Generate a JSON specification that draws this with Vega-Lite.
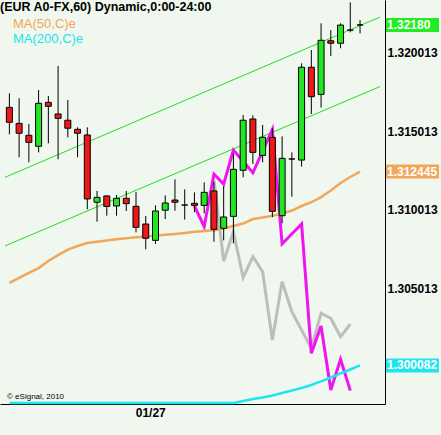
{
  "$schema": "https://vega.github.io/schema/vega-lite/v6.json",
  "width": 385,
  "height": 404,
  "autosize": {"type": "none"},
  "padding": {"left": 0, "top": 0, "right": 56, "bottom": 31},
  "background": "#eff7ef",
  "view": {"stroke": null},
  "config": {
    "font": "Liberation Sans",
    "axis": {"ticks": false, "grid": false, "domainColor": "black", "domainWidth": 1, "labelFont": "Liberation Sans", "labelFontSize": 12, "labelFontWeight": "bold", "labelColor": "black", "labelOverlap": false, "labelFlush": false},
    "axisY": {"labelPadding": 2},
    "axisX": {"labelPadding": 3}
  },
  "title": {"text": "(EUR A0-FX,60) Dynamic,0:00-24:00", "anchor": "start", "frame": "group", "offset": -13, "font": "Liberation Sans", "fontSize": 12.5, "fontWeight": "bold", "color": "black"},
  "datasets": {
    "candles": [
      {"t":"2010-01-26T10:00","o":1.31654,"h":1.31744,"l":1.31482,"c":1.31559},
      {"t":"2010-01-26T11:00","o":1.31552,"h":1.31712,"l":1.31336,"c":1.31489},
      {"t":"2010-01-26T12:00","o":1.31476,"h":1.31548,"l":1.31304,"c":1.31431},
      {"t":"2010-01-26T13:00","o":1.31406,"h":1.31765,"l":1.31367,"c":1.3168},
      {"t":"2010-01-26T14:00","o":1.31686,"h":1.31727,"l":1.31425,"c":1.31661},
      {"t":"2010-01-26T15:00","o":1.31612,"h":1.31918,"l":1.31323,"c":1.31584},
      {"t":"2010-01-26T16:00","o":1.31572,"h":1.31701,"l":1.31463,"c":1.31521},
      {"t":"2010-01-26T17:00","o":1.31514,"h":1.31527,"l":1.31336,"c":1.31489},
      {"t":"2010-01-26T18:00","o":1.31478,"h":1.31527,"l":1.31004,"c":1.3107},
      {"t":"2010-01-26T19:00","o":1.31049,"h":1.31121,"l":1.30925,"c":1.3108},
      {"t":"2010-01-26T20:00","o":1.31089,"h":1.31095,"l":1.30963,"c":1.31022},
      {"t":"2010-01-26T21:00","o":1.31025,"h":1.31095,"l":1.30963,"c":1.31074},
      {"t":"2010-01-26T22:00","o":1.31074,"h":1.31121,"l":1.30993,"c":1.3104},
      {"t":"2010-01-26T23:00","o":1.31023,"h":1.31114,"l":1.30857,"c":1.30889},
      {"t":"2010-01-27T00:00","o":1.3091,"h":1.30961,"l":1.30749,"c":1.30819},
      {"t":"2010-01-27T01:00","o":1.30806,"h":1.31029,"l":1.30783,"c":1.30993},
      {"t":"2010-01-27T02:00","o":1.30998,"h":1.31093,"l":1.30942,"c":1.31044},
      {"t":"2010-01-27T03:00","o":1.31063,"h":1.31195,"l":1.30995,"c":1.31049},
      {"t":"2010-01-27T04:00","o":1.31031,"h":1.31131,"l":1.30938,"c":1.31031},
      {"t":"2010-01-27T05:00","o":1.31042,"h":1.31112,"l":1.30985,"c":1.31029},
      {"t":"2010-01-27T06:00","o":1.31029,"h":1.31176,"l":1.30978,"c":1.31112},
      {"t":"2010-01-27T07:00","o":1.31121,"h":1.31178,"l":1.30797,"c":1.30876},
      {"t":"2010-01-27T08:00","o":1.30883,"h":1.31152,"l":1.30806,"c":1.30955},
      {"t":"2010-01-27T09:00","o":1.30959,"h":1.31361,"l":1.30787,"c":1.31259},
      {"t":"2010-01-27T10:00","o":1.31253,"h":1.31605,"l":1.31208,"c":1.31572},
      {"t":"2010-01-27T11:00","o":1.3158,"h":1.31603,"l":1.31293,"c":1.31367},
      {"t":"2010-01-27T12:00","o":1.31348,"h":1.31542,"l":1.31304,"c":1.31463},
      {"t":"2010-01-27T13:00","o":1.31463,"h":1.31521,"l":1.30953,"c":1.30991},
      {"t":"2010-01-27T14:00","o":1.30963,"h":1.31469,"l":1.30915,"c":1.31329},
      {"t":"2010-01-27T15:00","o":1.31325,"h":1.31367,"l":1.31084,"c":1.31325},
      {"t":"2010-01-27T16:00","o":1.31318,"h":1.31935,"l":1.31276,"c":1.3191},
      {"t":"2010-01-27T17:00","o":1.3191,"h":1.3202,"l":1.31612,"c":1.31722},
      {"t":"2010-01-27T18:00","o":1.31737,"h":1.3219,"l":1.31653,"c":1.32082},
      {"t":"2010-01-27T19:00","o":1.32079,"h":1.32147,"l":1.31982,"c":1.32063},
      {"t":"2010-01-27T20:00","o":1.32063,"h":1.3219,"l":1.32031,"c":1.32179},
      {"t":"2010-01-27T21:00","o":1.32147,"h":1.32324,"l":1.32133,"c":1.32147},
      {"t":"2010-01-27T22:00","o":1.3218,"h":1.32211,"l":1.32126,"c":1.3218}
    ],
    "ma": [
      {"t":"2010-01-26T10:00","s":"MA(50,C)e","v":1.30534},
      {"t":"2010-01-26T11:00","s":"MA(50,C)e","v":1.30566},
      {"t":"2010-01-26T12:00","s":"MA(50,C)e","v":1.30598},
      {"t":"2010-01-26T13:00","s":"MA(50,C)e","v":1.30629},
      {"t":"2010-01-26T14:00","s":"MA(50,C)e","v":1.30674},
      {"t":"2010-01-26T15:00","s":"MA(50,C)e","v":1.30712},
      {"t":"2010-01-26T16:00","s":"MA(50,C)e","v":1.30747},
      {"t":"2010-01-26T17:00","s":"MA(50,C)e","v":1.3077},
      {"t":"2010-01-26T18:00","s":"MA(50,C)e","v":1.30789},
      {"t":"2010-01-26T19:00","s":"MA(50,C)e","v":1.30797},
      {"t":"2010-01-26T20:00","s":"MA(50,C)e","v":1.30805},
      {"t":"2010-01-26T21:00","s":"MA(50,C)e","v":1.30813},
      {"t":"2010-01-26T22:00","s":"MA(50,C)e","v":1.3082},
      {"t":"2010-01-26T23:00","s":"MA(50,C)e","v":1.30826},
      {"t":"2010-01-27T00:00","s":"MA(50,C)e","v":1.30831},
      {"t":"2010-01-27T01:00","s":"MA(50,C)e","v":1.30836},
      {"t":"2010-01-27T02:00","s":"MA(50,C)e","v":1.30842},
      {"t":"2010-01-27T03:00","s":"MA(50,C)e","v":1.30847},
      {"t":"2010-01-27T04:00","s":"MA(50,C)e","v":1.30853},
      {"t":"2010-01-27T05:00","s":"MA(50,C)e","v":1.3086},
      {"t":"2010-01-27T06:00","s":"MA(50,C)e","v":1.30865},
      {"t":"2010-01-27T07:00","s":"MA(50,C)e","v":1.30871},
      {"t":"2010-01-27T08:00","s":"MA(50,C)e","v":1.30881},
      {"t":"2010-01-27T09:00","s":"MA(50,C)e","v":1.30897},
      {"t":"2010-01-27T10:00","s":"MA(50,C)e","v":1.30913},
      {"t":"2010-01-27T11:00","s":"MA(50,C)e","v":1.30942},
      {"t":"2010-01-27T12:00","s":"MA(50,C)e","v":1.30952},
      {"t":"2010-01-27T13:00","s":"MA(50,C)e","v":1.30962},
      {"t":"2010-01-27T14:00","s":"MA(50,C)e","v":1.30977},
      {"t":"2010-01-27T15:00","s":"MA(50,C)e","v":1.30996},
      {"t":"2010-01-27T16:00","s":"MA(50,C)e","v":1.31025},
      {"t":"2010-01-27T17:00","s":"MA(50,C)e","v":1.31049},
      {"t":"2010-01-27T18:00","s":"MA(50,C)e","v":1.31082},
      {"t":"2010-01-27T19:00","s":"MA(50,C)e","v":1.31124},
      {"t":"2010-01-27T20:00","s":"MA(50,C)e","v":1.31172},
      {"t":"2010-01-27T21:00","s":"MA(50,C)e","v":1.3121},
      {"t":"2010-01-27T22:00","s":"MA(50,C)e","v":1.31244},
      {"t":"2010-01-26T10:00","s":"MA(200,C)e","v":1.29768},
      {"t":"2010-01-26T11:00","s":"MA(200,C)e","v":1.29768},
      {"t":"2010-01-26T12:00","s":"MA(200,C)e","v":1.29768},
      {"t":"2010-01-26T13:00","s":"MA(200,C)e","v":1.29768},
      {"t":"2010-01-26T14:00","s":"MA(200,C)e","v":1.29768},
      {"t":"2010-01-26T15:00","s":"MA(200,C)e","v":1.29768},
      {"t":"2010-01-26T16:00","s":"MA(200,C)e","v":1.29768},
      {"t":"2010-01-26T17:00","s":"MA(200,C)e","v":1.29768},
      {"t":"2010-01-26T18:00","s":"MA(200,C)e","v":1.29768},
      {"t":"2010-01-26T19:00","s":"MA(200,C)e","v":1.29768},
      {"t":"2010-01-26T20:00","s":"MA(200,C)e","v":1.29768},
      {"t":"2010-01-26T21:00","s":"MA(200,C)e","v":1.29768},
      {"t":"2010-01-26T22:00","s":"MA(200,C)e","v":1.29768},
      {"t":"2010-01-26T23:00","s":"MA(200,C)e","v":1.29768},
      {"t":"2010-01-27T00:00","s":"MA(200,C)e","v":1.29768},
      {"t":"2010-01-27T01:00","s":"MA(200,C)e","v":1.29768},
      {"t":"2010-01-27T02:00","s":"MA(200,C)e","v":1.29768},
      {"t":"2010-01-27T03:00","s":"MA(200,C)e","v":1.29768},
      {"t":"2010-01-27T04:00","s":"MA(200,C)e","v":1.29768},
      {"t":"2010-01-27T05:00","s":"MA(200,C)e","v":1.29768},
      {"t":"2010-01-27T06:00","s":"MA(200,C)e","v":1.29768},
      {"t":"2010-01-27T07:00","s":"MA(200,C)e","v":1.29768},
      {"t":"2010-01-27T08:00","s":"MA(200,C)e","v":1.29768},
      {"t":"2010-01-27T09:00","s":"MA(200,C)e","v":1.29768},
      {"t":"2010-01-27T10:00","s":"MA(200,C)e","v":1.29781},
      {"t":"2010-01-27T11:00","s":"MA(200,C)e","v":1.29794},
      {"t":"2010-01-27T12:00","s":"MA(200,C)e","v":1.29804},
      {"t":"2010-01-27T13:00","s":"MA(200,C)e","v":1.29816},
      {"t":"2010-01-27T14:00","s":"MA(200,C)e","v":1.29832},
      {"t":"2010-01-27T15:00","s":"MA(200,C)e","v":1.29848},
      {"t":"2010-01-27T16:00","s":"MA(200,C)e","v":1.29864},
      {"t":"2010-01-27T17:00","s":"MA(200,C)e","v":1.29883},
      {"t":"2010-01-27T18:00","s":"MA(200,C)e","v":1.29906},
      {"t":"2010-01-27T19:00","s":"MA(200,C)e","v":1.29931},
      {"t":"2010-01-27T20:00","s":"MA(200,C)e","v":1.29957},
      {"t":"2010-01-27T21:00","s":"MA(200,C)e","v":1.29982},
      {"t":"2010-01-27T22:00","s":"MA(200,C)e","v":1.30008}
    ],
    "magenta": [
      {"t":"2010-01-27T05:00","v":1.31025},
      {"t":"2010-01-27T06:00","v":1.30893},
      {"t":"2010-01-27T07:00","v":1.31229},
      {"t":"2010-01-27T08:00","v":1.31165},
      {"t":"2010-01-27T09:00","v":1.31382},
      {"t":"2010-01-27T11:00","v":1.31237},
      {"t":"2010-01-27T13:00","v":1.31514},
      {"t":"2010-01-27T14:00","v":1.30783},
      {"t":"2010-01-27T16:00","v":1.3091},
      {"t":"2010-01-27T17:00","v":1.30085},
      {"t":"2010-01-27T18:00","v":1.3026},
      {"t":"2010-01-27T19:00","v":1.29851},
      {"t":"2010-01-27T20:00","v":1.30047},
      {"t":"2010-01-27T21:00","v":1.29847}
    ],
    "gray": [
      {"t":"2010-01-27T07:00","v":1.31191},
      {"t":"2010-01-27T08:00","v":1.30674},
      {"t":"2010-01-27T09:00","v":1.30859},
      {"t":"2010-01-27T10:00","v":1.30568},
      {"t":"2010-01-27T11:00","v":1.30702},
      {"t":"2010-01-27T12:00","v":1.30606},
      {"t":"2010-01-27T13:00","v":1.3017},
      {"t":"2010-01-27T14:00","v":1.30542},
      {"t":"2010-01-27T15:00","v":1.30351},
      {"t":"2010-01-27T17:00","v":1.30117},
      {"t":"2010-01-27T18:00","v":1.30341},
      {"t":"2010-01-27T19:00","v":1.30309},
      {"t":"2010-01-27T20:00","v":1.30191},
      {"t":"2010-01-27T21:00","v":1.30272}
    ],
    "channel": [
      {"t":"2010-01-26T09:33","s":"upper","v":1.31208},
      {"t":"2010-01-28T00:03","s":"upper","v":1.3223},
      {"t":"2010-01-26T09:33","s":"lower","v":1.3077},
      {"t":"2010-01-28T00:03","s":"lower","v":1.31787}
    ],
    "badges": [
      {"label":"1.32180","v":1.3218,"bg":"#22ec22"},
      {"label":"1.312445","v":1.312445,"bg":"#f2a65a"},
      {"label":"1.300082","v":1.300082,"bg":"#20e4ee"}
    ],
    "credit": [
      {"label":"© eSignal, 2010"}
    ]
  },
  "layer": [
    {
      "data": {"name": "channel"},
      "mark": {"type": "line", "color": "#22dd22", "strokeWidth": 1},
      "encoding": {
        "x": {"field": "t", "type": "temporal", "title": null},
        "y": {"field": "v", "type": "quantitative", "title": null},
        "detail": {"field": "s"}
      }
    },
    {
      "data": {"name": "gray"},
      "mark": {"type": "line", "color": "#bdbdbd", "strokeWidth": 3},
      "encoding": {
        "x": {"field": "t", "type": "temporal", "title": null},
        "y": {"field": "v", "type": "quantitative", "title": null}
      }
    },
    {
      "data": {"name": "magenta"},
      "mark": {"type": "line", "color": "#f014f0", "strokeWidth": 3},
      "encoding": {
        "x": {"field": "t", "type": "temporal", "title": null},
        "y": {"field": "v", "type": "quantitative", "title": null}
      }
    },
    {
      "data": {"name": "ma"},
      "mark": {"type": "line", "strokeWidth": 2.5},
      "encoding": {
        "x": {"field": "t", "type": "temporal", "title": null},
        "y": {"field": "v", "type": "quantitative", "title": null},
        "color": {
          "field": "s", "type": "nominal",
          "scale": {"domain": ["MA(50,C)e", "MA(200,C)e"], "range": ["#f2a65a", "#20e4ee"]},
          "legend": {
            "orient": "none", "legendX": 0, "legendY": 16, "title": null,
            "symbolSize": 0, "symbolStrokeWidth": 0, "symbolOpacity": 0,
            "clipHeight": 15,
            "labelOffset": 0, "labelFont": "Liberation Sans", "labelFontSize": 13,
            "labelColor": {"expr": "datum.value == 'MA(50,C)e' ? '#f2a65a' : '#20e4ee'"},
            "padding": 0, "rowPadding": 0
          }
        }
      }
    },
    {
      "data": {"name": "candles"},
      "mark": {"type": "rule", "color": "black", "strokeWidth": 1},
      "encoding": {
        "x": {"field": "t", "type": "temporal", "title": null},
        "y": {"field": "l", "type": "quantitative", "title": null},
        "y2": {"field": "h"}
      }
    },
    {
      "data": {"name": "candles"},
      "mark": {"type": "bar", "width": 6, "stroke": "black", "strokeWidth": 1},
      "encoding": {
        "x": {
          "field": "t", "type": "temporal", "title": null,
          "scale": {"domain": [{"year": 2010, "month": 1, "date": 26, "hours": 9, "minutes": 33}, {"year": 2010, "month": 1, "date": 28, "hours": 0, "minutes": 3}], "nice": false},
          "axis": {"values": [{"year": 2010, "month": 1, "date": 27}], "format": "%m/%d", "labelOffset": 4.5, "title": null}
        },
        "y": {
          "field": "o", "type": "quantitative", "title": null,
          "scale": {"domain": [1.29762, 1.32339], "nice": false, "zero": false},
          "axis": {"orient": "right", "values": [1.305013, 1.310013, 1.315013, 1.320013], "format": ".6f", "title": null}
        },
        "y2": {"field": "c"},
        "fill": {"condition": {"test": "datum.c > datum.o", "value": "#22e622"}, "value": "#ee1818"}
      }
    },
    {
      "data": {"name": "badges"},
      "mark": {"type": "rect", "x": {"expr": "width + 1"}, "x2": {"expr": "width + 54"}, "height": 14},
      "encoding": {
        "y": {"field": "v", "type": "quantitative", "title": null},
        "fill": {"field": "bg", "type": "nominal", "scale": null}
      }
    },
    {
      "data": {"name": "badges"},
      "mark": {"type": "text", "x": {"expr": "width + 2"}, "align": "left", "baseline": "middle", "font": "Liberation Sans", "fontSize": 12, "fontWeight": "bold", "color": "white"},
      "encoding": {
        "y": {"field": "v", "type": "quantitative", "title": null},
        "text": {"field": "label"}
      }
    },
    {
      "data": {"name": "credit"},
      "mark": {"type": "text", "align": "left", "baseline": "alphabetic", "dx": 2, "dy": -5, "font": "Liberation Sans", "fontSize": 8, "color": "black"},
      "encoding": {
        "x": {"datum": {"year": 2010, "month": 1, "date": 26, "hours": 9, "minutes": 33}, "type": "temporal"},
        "y": {"datum": 1.29762, "type": "quantitative"},
        "text": {"field": "label"}
      }
    }
  ]
}
